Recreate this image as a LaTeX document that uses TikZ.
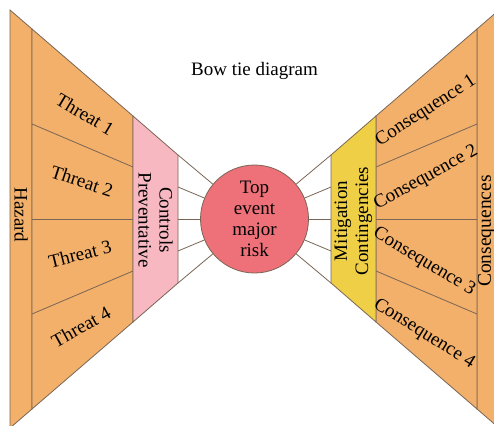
\documentclass[tikz,border=0pt]{standalone}
\usepackage{fontspec}
\setmainfont{Liberation Serif}
\definecolor{orangec}{HTML}{F2B06A}
\definecolor{pinkc}{HTML}{F7B8C2}
\definecolor{yellowc}{HTML}{EFCF45}
\definecolor{circc}{HTML}{EE717A}
\definecolor{linec}{HTML}{7A6656}
\begin{document}
\begin{tikzpicture}[x=1pt,y=-1pt,
  edge/.style={draw=linec, line width=0.8pt},
  region/.style={draw=linec, line width=0.8pt, line join=miter},
  lbl/.style={font=\fontsize{19}{21}\selectfont, inner sep=0pt, align=center}]
\useasboundingbox (0,0) rectangle (494,425);
\clip (0,0) rectangle (494,425);
\fill[white] (0,0) rectangle (494,425);
% left side
\filldraw[region, fill=orangec] (10,10) -- (32,29) -- (32,409) -- (10,428) -- cycle;
\filldraw[region, fill=orangec] (32,29) -- (133,116) -- (133,322) -- (32,409) -- cycle;
\draw[edge] (32,124) -- (133,167);
\draw[edge] (32,219) -- (133,219);
\draw[edge] (32,314) -- (133,271);
\filldraw[region, fill=pinkc] (133,116) -- (178,155) -- (178,283) -- (133,322) -- cycle;
% right side
\filldraw[region, fill=orangec] (499,10) -- (477,29) -- (477,409) -- (499,428) -- cycle;
\filldraw[region, fill=orangec] (477,29) -- (376,116) -- (376,322) -- (477,409) -- cycle;
\draw[edge] (477,124) -- (376,167);
\draw[edge] (477,219) -- (376,219);
\draw[edge] (477,314) -- (376,271);
\filldraw[region, fill=yellowc] (376,116) -- (331,155) -- (331,283) -- (376,322) -- cycle;
% top event
\node[circle, fill=circc, draw=linec, line width=0.8pt, minimum size=108pt, lbl] (top) at (254.5,219) {Top\\event\\major\\risk};
\coordinate (l1) at (178,155);
\coordinate (l2) at (178,187);
\coordinate (l3) at (178,219);
\coordinate (l4) at (178,251);
\coordinate (l5) at (178,283);
\coordinate (r1) at (331,155);
\coordinate (r2) at (331,187);
\coordinate (r3) at (331,219);
\coordinate (r4) at (331,251);
\coordinate (r5) at (331,283);
\foreach \i in {1,...,5}{
  \draw[edge] (l\i) -- (top);
  \draw[edge] (r\i) -- (top);
}
% labels
\node[lbl] (title) at (254.5,71) {Bow tie diagram};
\node[lbl, rotate=-90] (haz) at (21,215) {Hazard};
\node[lbl, rotate=-31] (t1) at (85,114) {Threat 1};
\node[lbl, rotate=-18] (t2) at (82,181) {Threat 2};
\node[lbl, rotate=14] (t3) at (80,254) {Threat 3};
\node[lbl, rotate=29] (t4) at (81,327) {Threat 4};
\node[lbl, rotate=-90] (ctrl) at (155.5,220) {Controls\\Preventative};
\node[lbl, rotate=90] (mit) at (353.5,221) {Mitigation\\Contingencies};
\node[lbl, rotate=33] (c1) at (426,111) {Consequence 1};
\node[lbl, rotate=29] (c2) at (426,178) {Consequence 2};
\node[lbl, rotate=-31] (c3) at (424,262) {Consequence 3};
\node[lbl, rotate=-32] (c4) at (424,334) {Consequence 4};
\node[lbl, rotate=90, font=\fontsize{19.5}{21}\selectfont] (cons) at (486.5,231) {Consequences};
\end{tikzpicture}
\end{document}
